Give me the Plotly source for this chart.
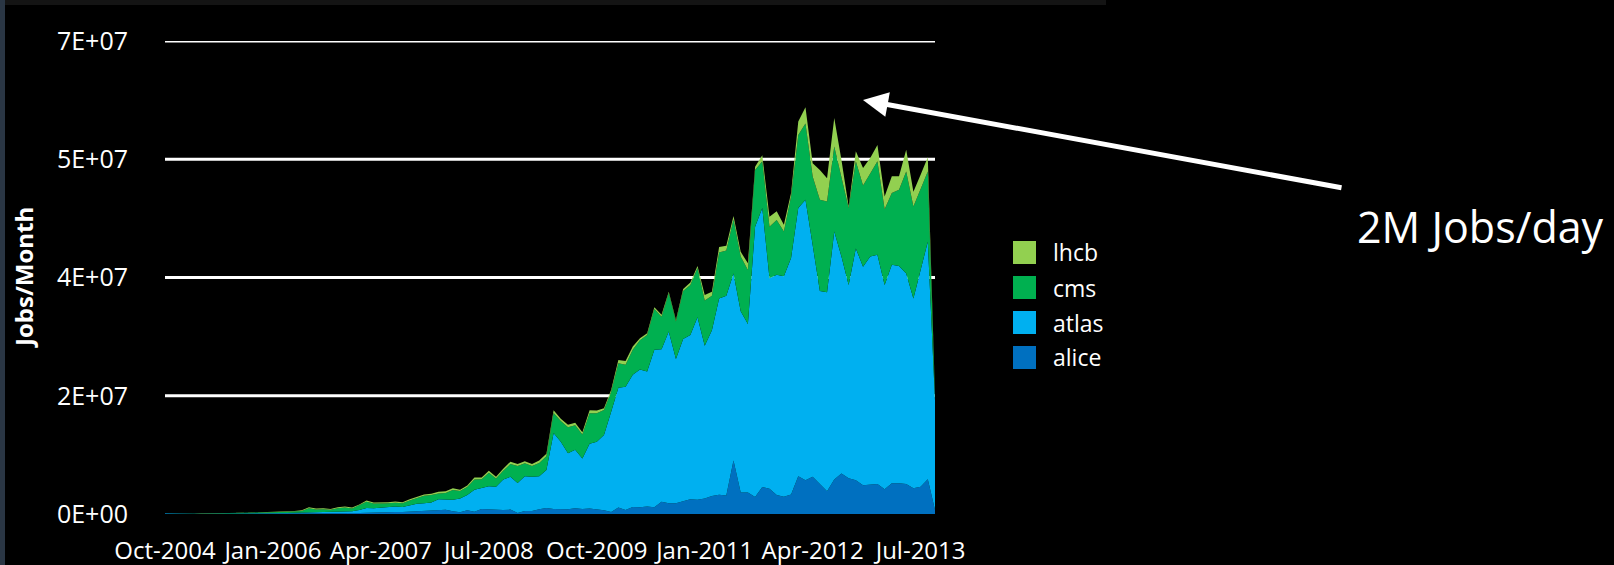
import pandas as pd
import plotly.graph_objects as go

# Monthly grid jobs per experiment (millions of jobs / month), Oct-2004 .. Sep-2013
months = pd.date_range("2004-10-01", periods=108, freq="MS").strftime("%b-%Y").tolist()
tick_months = months[::15]

alice = [0.02, 0.01, 0.01, 0.01, 0.01, 0.02, 0.02, 0.02, 0.02, 0.02,
         0.03, 0.03, 0.03, 0.03, 0.04, 0.04, 0.04, 0.05, 0.05, 0.06,
         0.08, 0.08, 0.09, 0.09, 0.11, 0.13, 0.14, 0.16, 0.20, 0.22,
         0.25, 0.22, 0.30, 0.28, 0.35, 0.45, 0.50, 0.55, 0.60, 0.62,
         0.40, 0.25, 0.55, 0.35, 0.75, 0.70, 0.55, 0.60, 0.65, 0.15,
         0.45, 0.45, 0.70, 0.90, 0.75, 0.70, 0.70, 0.85, 0.75, 0.80,
         0.70, 0.55, 0.30, 0.95, 0.60, 1.05, 1.00, 1.10, 1.00, 1.80,
         1.60, 1.60, 1.90, 2.20, 2.10, 2.30, 2.65, 2.85, 2.75, 7.90,
         3.20, 3.20, 2.50, 4.00, 3.75, 2.80, 2.55, 2.90, 5.60, 5.00,
         5.50, 4.45, 3.35, 5.10, 6.00, 5.30, 5.00, 4.25, 4.40, 4.45,
         3.65, 4.55, 4.55, 4.45, 3.80, 4.05, 5.15, 0.60]

atlas = [0.08, 0.05, 0.02, 0.02, 0.03, 0.03, 0.03, 0.04, 0.05, 0.05,
         0.05, 0.06, 0.07, 0.08, 0.08, 0.09, 0.11, 0.11, 0.13, 0.14,
         0.20, 0.17, 0.19, 0.19, 0.24, 0.27, 0.28, 0.44, 0.70, 0.63,
         0.70, 0.78, 0.80, 0.77, 0.95, 1.05, 1.10, 1.15, 1.60, 1.58,
         1.70, 2.05, 2.25, 3.25, 3.10, 3.40, 3.50, 4.50, 4.85, 4.45,
         5.15, 5.05, 4.90, 5.60, 11.25, 10.00, 8.30, 8.65, 7.45, 9.60,
         10.00, 11.15, 14.85, 17.75, 18.25, 19.55, 20.40, 20.00, 23.30, 22.60,
         25.40, 21.35, 24.00, 24.30, 27.00, 22.60, 24.55, 29.05, 29.55, 27.70,
         26.80, 24.90, 40.00, 41.30, 31.15, 32.60, 32.65, 35.00, 39.70, 41.50,
         34.30, 28.55, 29.45, 36.70, 32.10, 28.60, 34.30, 32.35, 33.70, 33.90,
         30.25, 32.35, 32.15, 31.15, 28.10, 31.85, 35.15, 16.20]

cms = [0.00, 0.01, 0.01, 0.01, 0.02, 0.03, 0.04, 0.04, 0.05, 0.05,
       0.07, 0.08, 0.09, 0.10, 0.12, 0.12, 0.15, 0.18, 0.20, 0.26,
       0.57, 0.43, 0.44, 0.36, 0.51, 0.55, 0.40, 0.65, 0.90, 0.70,
       0.57, 0.58, 0.57, 0.53, 0.70, 0.90, 1.10, 1.10, 0.85, 0.90,
       1.45, 1.10, 1.20, 1.50, 1.30, 2.00, 1.20, 1.30, 1.90, 2.50,
       1.90, 1.60, 1.95, 2.05, 2.95, 3.05, 3.85, 3.65, 3.55, 4.50,
       4.20, 3.70, 2.95, 3.60, 3.25, 3.70, 4.30, 5.40, 6.05, 4.80,
       5.70, 5.55, 7.10, 7.40, 7.30, 6.70, 5.10, 6.80, 6.70, 8.00,
       8.10, 8.00, 8.40, 6.90, 7.60, 8.10, 6.60, 9.10, 10.80, 11.30,
       10.15, 13.50, 13.45, 12.60, 11.85, 11.40, 12.90, 12.00, 12.30, 13.85,
       11.20, 10.60, 11.30, 15.10, 13.60, 12.30, 10.40, 0.40]

lhcb = [0.00, 0.01, 0.01, 0.01, 0.01, 0.02, 0.01, 0.02, 0.03, 0.03,
        0.03, 0.03, 0.03, 0.04, 0.04, 0.05, 0.05, 0.06, 0.07, 0.09,
        0.15, 0.12, 0.13, 0.11, 0.14, 0.15, 0.13, 0.15, 0.20, 0.15,
        0.18, 0.17, 0.18, 0.17, 0.20, 0.20, 0.20, 0.20, 0.25, 0.25,
        0.25, 0.20, 0.20, 0.30, 0.25, 0.30, 0.25, 0.30, 0.35, 0.30,
        0.30, 0.30, 0.35, 0.35, 0.40, 0.35, 0.35, 0.35, 0.35, 0.45,
        0.40, 0.25, 0.30, 0.50, 0.55, 0.50, 0.30, 0.25, 0.25, 0.30,
        0.20, 0.20, 0.30, 0.35, 0.30, 0.80, 0.60, 0.80, 0.70, 0.50,
        0.70, 1.00, 0.50, 0.90, 1.50, 1.30, 1.00, 0.50, 2.00, 2.40,
        1.95, 4.40, 3.45, 4.20, 2.45, 0.20, 1.50, 2.60, 2.30, 2.40,
        1.90, 2.50, 2.00, 3.20, 2.20, 2.00, 2.10, 0.20]

y_ticks = [0, 1.75e7, 3.5e7, 5.25e7, 7e7]
y_tick_text = ["0E+00", "2E+07", "4E+07", "5E+07", "7E+07"]

# bottom-to-top stacking order
series = [
    ("alice", alice, "#0070C0"),
    ("atlas", atlas, "#00B0F0"),
    ("cms", cms, "#00B050"),
    ("lhcb", lhcb, "#92D050"),
]

W, H = 1614, 565
L, R, T, B = 165, 679, 41, 51
PW, PH = W - L - R, H - T - B


def px(x):
    return (x - L) / PW


def py(y):
    return (H - B - y) / PH


FONT = "Open Sans, Noto Sans, sans-serif"
WHITE = "#FFFFFF"

fig = go.Figure()
for name, vals, color in series:
    fig.add_trace(go.Scatter(
        x=months, y=[v * 1e6 for v in vals], name=name,
        stackgroup="jobs", mode="lines",
        line=dict(width=0, color=color), fillcolor=color,
        showlegend=False, hoverinfo="x+y+name",
    ))

shapes = []
# horizontal gridlines (no line at zero)
for v in y_ticks[1:]:
    shapes.append(dict(type="line", xref="paper", yref="y", x0=0, x1=1, y0=v, y1=v,
                       line=dict(color=WHITE, width=3), layer="below"))

# slide frame strips
shapes.append(dict(type="rect", xref="paper", yref="paper", x0=px(0), x1=px(1106),
                   y0=py(5), y1=py(0), fillcolor="#141414", line=dict(width=0)))
shapes.append(dict(type="rect", xref="paper", yref="paper", x0=px(0), x1=px(5),
                   y0=py(565), y1=py(0), fillcolor="#2a3644", line=dict(width=0)))

annotations = []
# legend (top to bottom: lhcb, cms, atlas, alice)
legend_rows = list(reversed(series))
for k, (name, _, color) in enumerate(legend_rows):
    top = 241 + k * 35
    shapes.append(dict(type="rect", xref="paper", yref="paper",
                       x0=px(1013), x1=px(1036), y0=py(top + 23), y1=py(top),
                       fillcolor=color, line=dict(width=0)))
    annotations.append(dict(xref="paper", yref="paper", x=px(1051), y=py(top + 11.5),
                            text=name, showarrow=False, xanchor="left", yanchor="middle",
                            font=dict(family=FONT, size=23, color=WHITE)))

# y-axis title
annotations.append(dict(xref="paper", yref="paper", x=px(23), y=py(278),
                        text="<b>Jobs/Month</b>", textangle=-90, showarrow=False,
                        xanchor="center", yanchor="middle",
                        font=dict(family=FONT, size=24, color=WHITE)))

# callout
annotations.append(dict(xref="paper", yref="paper", x=px(1355), y=py(226),
                        text="2M Jobs/day", showarrow=False, xanchor="left", yanchor="middle",
                        font=dict(family=FONT, size=43, color=WHITE)))
annotations.append(dict(xref="paper", yref="paper", x=px(863), y=py(100), text="",
                        showarrow=True, ax=480, ay=88, axref="pixel", ayref="pixel",
                        arrowhead=2, arrowsize=1.0, arrowwidth=5, arrowcolor=WHITE))

fig.update_layout(
    width=W, height=H,
    margin=dict(l=L, r=R, t=T, b=B),
    paper_bgcolor="#000000", plot_bgcolor="#000000",
    showlegend=False,
    shapes=shapes, annotations=annotations,
    xaxis=dict(type="category", range=[0, len(months) - 1], automargin=False,
               tickmode="array", tickvals=tick_months, ticktext=tick_months,
               showgrid=False, zeroline=False, showline=False, ticks="",
               tickfont=dict(family=FONT, size=24, color=WHITE),
               ticklabelstandoff=20),
    yaxis=dict(range=[0, 7e7], automargin=False,
               tickmode="array", tickvals=y_ticks, ticktext=y_tick_text,
               showgrid=False, zeroline=False, showline=False, ticks="",
               tickfont=dict(family=FONT, size=25, color=WHITE),
               ticklabelstandoff=36),
)

fig.write_html("out.html")
